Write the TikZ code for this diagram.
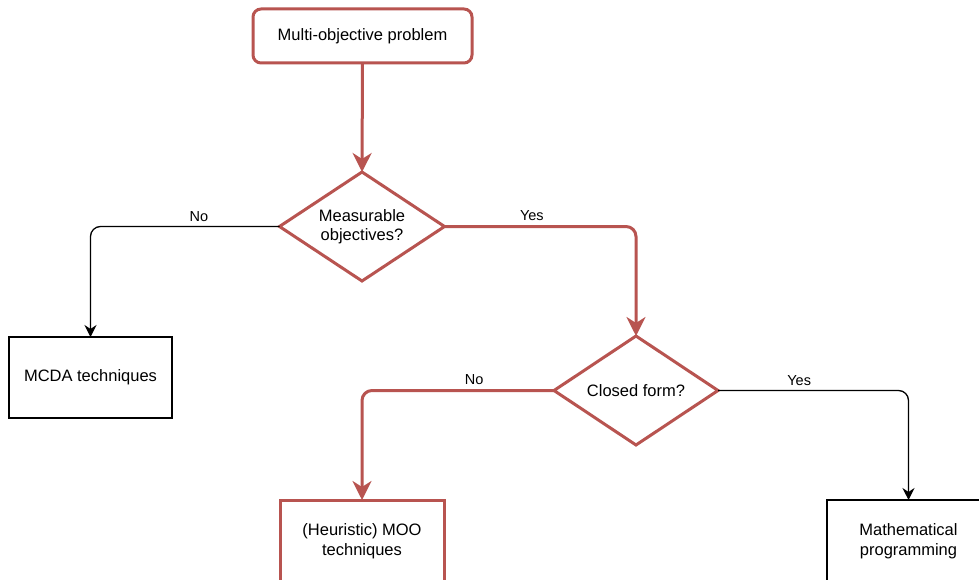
\documentclass[tikz,border=0pt]{standalone}
\usepackage{fontspec}
\setmainfont{Liberation Sans}
\usetikzlibrary{shapes.geometric,arrows.meta}
\definecolor{redline}{HTML}{B85450}
\tikzset{
  x=1pt, y=-1pt,
  txt/.style={font=\fontsize{16.5}{19.5}\selectfont, align=center, text=black},
  redbox/.style={txt, draw=redline, line width=3pt, fill=white, outer sep=0pt, inner sep=0pt},
  blackbox/.style={txt, draw=black, line width=1.3pt, fill=white, outer sep=0pt, inner sep=0pt},
  reddia/.style={txt, diamond, draw=redline, line width=3pt, fill=white, outer sep=0pt, inner sep=0pt, aspect=1.51},
  rededge/.style={draw=redline, line width=3pt, rounded corners=10pt, -{Stealth[length=19pt,width=19pt,inset=6pt]}},
  blackedge/.style={draw=black, line width=1.3pt, rounded corners=10pt, -{Stealth[length=12pt,width=12pt,inset=4pt]}},
  lbl/.style={font=\fontsize{14.5}{17}\selectfont, text=black, above, inner sep=4.5pt}
}
\begin{document}
\begin{tikzpicture}
\useasboundingbox (0,0) rectangle (979,580);
\clip (0,0) rectangle (979,580);
\fill[white] (0,0) rectangle (979,580);
\node[redbox, rounded corners=8pt, minimum width=219pt, minimum height=54pt] (top) at (362.5,36) {Multi-objective problem};
\node[reddia, minimum width=165pt, minimum height=109pt] (d1) at (362,226.5) {Measurable\\objectives?};
\node[reddia, minimum width=164pt, minimum height=109pt] (d2) at (636,390.5) {Closed form?};
\node[blackbox, minimum width=163pt, minimum height=81pt] (mcda) at (90.5,377.5) {MCDA techniques};
\node[redbox, minimum width=164pt, minimum height=82pt] (heur) at (362,541) {(Heuristic) MOO\\techniques};
\node[blackbox, minimum width=163pt, minimum height=82pt] (math) at (908.5,541) {Mathematical\\programming};
\path[rededge] (top.south) -- (d1.north);
\path[blackedge] (d1.west) -| node[lbl, pos=0.213] {No} (mcda.north);
\path[rededge] (d1.east) -| node[lbl, pos=0.228] {Yes} (d2.north);
\path[rededge] (d2.west) -| node[lbl, pos=0.208] {No} (heur.north);
\path[blackedge] (d2.east) -| node[lbl, pos=0.213] {Yes} (math.north);
\end{tikzpicture}
\end{document}
